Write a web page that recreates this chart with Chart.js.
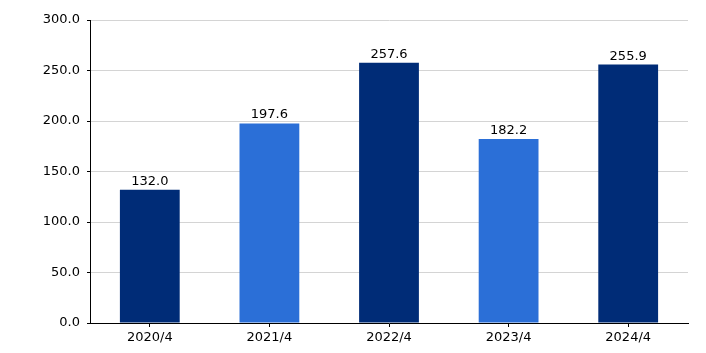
<!DOCTYPE html>
<html>
<head>
<meta charset="utf-8">
<script src="https://cdn.jsdelivr.net/npm/chart.js@4/dist/chart.umd.min.js"></script>
<style>
  html, body { margin: 0; padding: 0; background: #fff; }
  #wrap { width: 706px; height: 353px; }
</style>
</head>
<body>
<div id="wrap"><canvas id="barChart" width="706" height="353"></canvas></div>
<script>
// chart data
const categories = ['2020/4', '2021/4', '2022/4', '2023/4', '2024/4'];
const values = [132.0, 197.6, 257.6, 182.2, 255.9];
const barColors = ['#002c77', '#2b6fd7', '#002c77', '#2b6fd7', '#002c77'];
const yTicks = [0, 50, 100, 150, 200, 250, 300];

const fontFamily = '"DejaVu Sans", Verdana, sans-serif';

// draws the value above each bar
const valueLabels = {
    id: 'valueLabels',
    afterDatasetsDraw(chart) {
        const ctx = chart.ctx;
        const meta = chart.getDatasetMeta(0);
        ctx.save();
        ctx.font = '13px ' + fontFamily;
        ctx.fillStyle = '#000';
        ctx.textAlign = 'center';
        ctx.textBaseline = 'alphabetic';
        meta.data.forEach((bar, i) => {
            ctx.fillText(values[i].toFixed(1), bar.x, bar.y - 5);
        });
        ctx.restore();
    }
};

const ctx = document.getElementById('barChart').getContext('2d');
const barChart = new Chart(ctx, {
    type: 'bar',
    data: {
        labels: categories,
        datasets: [{
            data: values,
            backgroundColor: barColors,
            borderWidth: 0,
            barPercentage: 0.5,
            categoryPercentage: 1.0
        }]
    },
    options: {
        responsive: false,
        animation: false,
        layout: { padding: { top: 20, right: 18, left: 0, bottom: 0 } },
        plugins: {
            legend: { display: false },
            tooltip: { enabled: false }
        },
        scales: {
            x: {
                grid: {
                    offset: false,
                    drawOnChartArea: false,
                    drawTicks: true,
                    tickLength: 4,
                    tickColor: '#000'
                },
                border: { color: '#000', width: 1 },
                ticks: {
                    color: '#000',
                    font: { family: fontFamily, size: 13 },
                    padding: 3
                },
                afterFit(scale) { scale.height = 30; }
            },
            y: {
                min: 0,
                max: 300,
                afterBuildTicks(scale) {
                    scale.ticks = yTicks.map(v => ({ value: v }));
                },
                grid: {
                    color: '#d4d4d4',
                    tickColor: '#000',
                    tickLength: 3
                },
                border: { color: '#000', width: 1 },
                ticks: {
                    color: '#000',
                    font: { family: fontFamily, size: 13 },
                    padding: 7,
                    callback: v => v.toFixed(1)
                },
                afterFit(scale) { scale.width = 90; }
            }
        }
    },
    plugins: [valueLabels]
});
</script>
</body>
</html>
